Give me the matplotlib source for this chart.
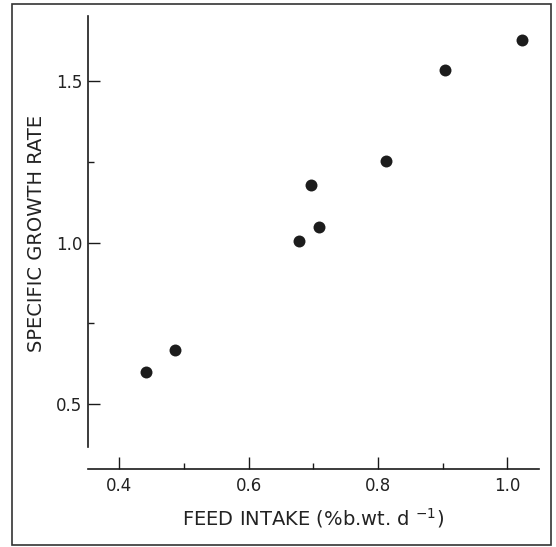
import matplotlib
matplotlib.use("Agg")
import matplotlib.pyplot as plt
from matplotlib.patches import Rectangle
from matplotlib.ticker import FixedLocator

# Data
feed_intake = [0.441, 0.486, 0.678, 0.696, 0.709, 0.813, 0.904, 1.023]
growth_rate = [0.601, 0.667, 1.005, 1.179, 1.049, 1.253, 1.534, 1.626]

x_ticks = [0.4, 0.6, 0.8, 1.0]
x_tick_labels = ["0.4", "0.6", "0.8", "1.0"]
x_minor_ticks = [0.5, 0.7, 0.9]
y_ticks = [0.5, 1.0, 1.5]
y_tick_labels = ["0.5", "1.0", "1.5"]
y_minor_ticks = [0.75, 1.25]

plt.rcParams['font.family'] = ['DejaVu Sans']

W, H = 556, 547
fig = plt.figure(figsize=(W / 100, H / 100), dpi=100)
fig.patch.set_facecolor("white")

left_px, right_px, top_px, bottom_px = 88, 539, 16, 469
ax = fig.add_axes([left_px / W, (H - bottom_px) / H,
                   (right_px - left_px) / W, (bottom_px - top_px) / H])

ax.plot(feed_intake, growth_rate, linestyle="none", marker="o",
        markersize=8.6, color="#1c1c1c", markeredgewidth=0)

ax.set_xlim(0.3515, 1.049)
ax.set_ylim(0.30, 1.70)

for s in ["top", "right"]:
    ax.spines[s].set_visible(False)
for s in ["left", "bottom"]:
    ax.spines[s].set_linewidth(1.2)
    ax.spines[s].set_color("#1a1a1a")
ax.spines["left"].set_bounds(0.368, 1.70)

ax.set_xticks(x_ticks)
ax.set_xticklabels(x_tick_labels)
ax.set_yticks(y_ticks)
ax.set_yticklabels(y_tick_labels)
ax.xaxis.set_minor_locator(FixedLocator(x_minor_ticks))
ax.yaxis.set_minor_locator(FixedLocator(y_minor_ticks))

ax.tick_params(axis="both", which="major", direction="in", length=8.6,
               width=1.0, colors="#1a1a1a", labelsize=12, labelcolor="#222222")
ax.tick_params(axis="both", which="minor", direction="in", length=4,
               width=1.0, colors="#1a1a1a")
ax.tick_params(axis="x", which="major", pad=6)
ax.tick_params(axis="y", which="major", pad=4)

ax.set_xlabel(r"FEED INTAKE (%b.wt. d $^{-1}$)", fontsize=14, color="#222222",
              labelpad=8)
ax.set_ylabel("SPECIFIC GROWTH RATE", fontsize=14, color="#222222")
ax.yaxis.set_label_coords(-0.093, 0.52)

# outer frame of the figure
fig.patches.append(Rectangle((12 / W, (H - 545) / H), (551 - 12) / W, (545 - 4) / H,
                             transform=fig.transFigure, fill=False,
                             edgecolor="#333333", linewidth=1.2))

fig.savefig("out.png", dpi=100)
